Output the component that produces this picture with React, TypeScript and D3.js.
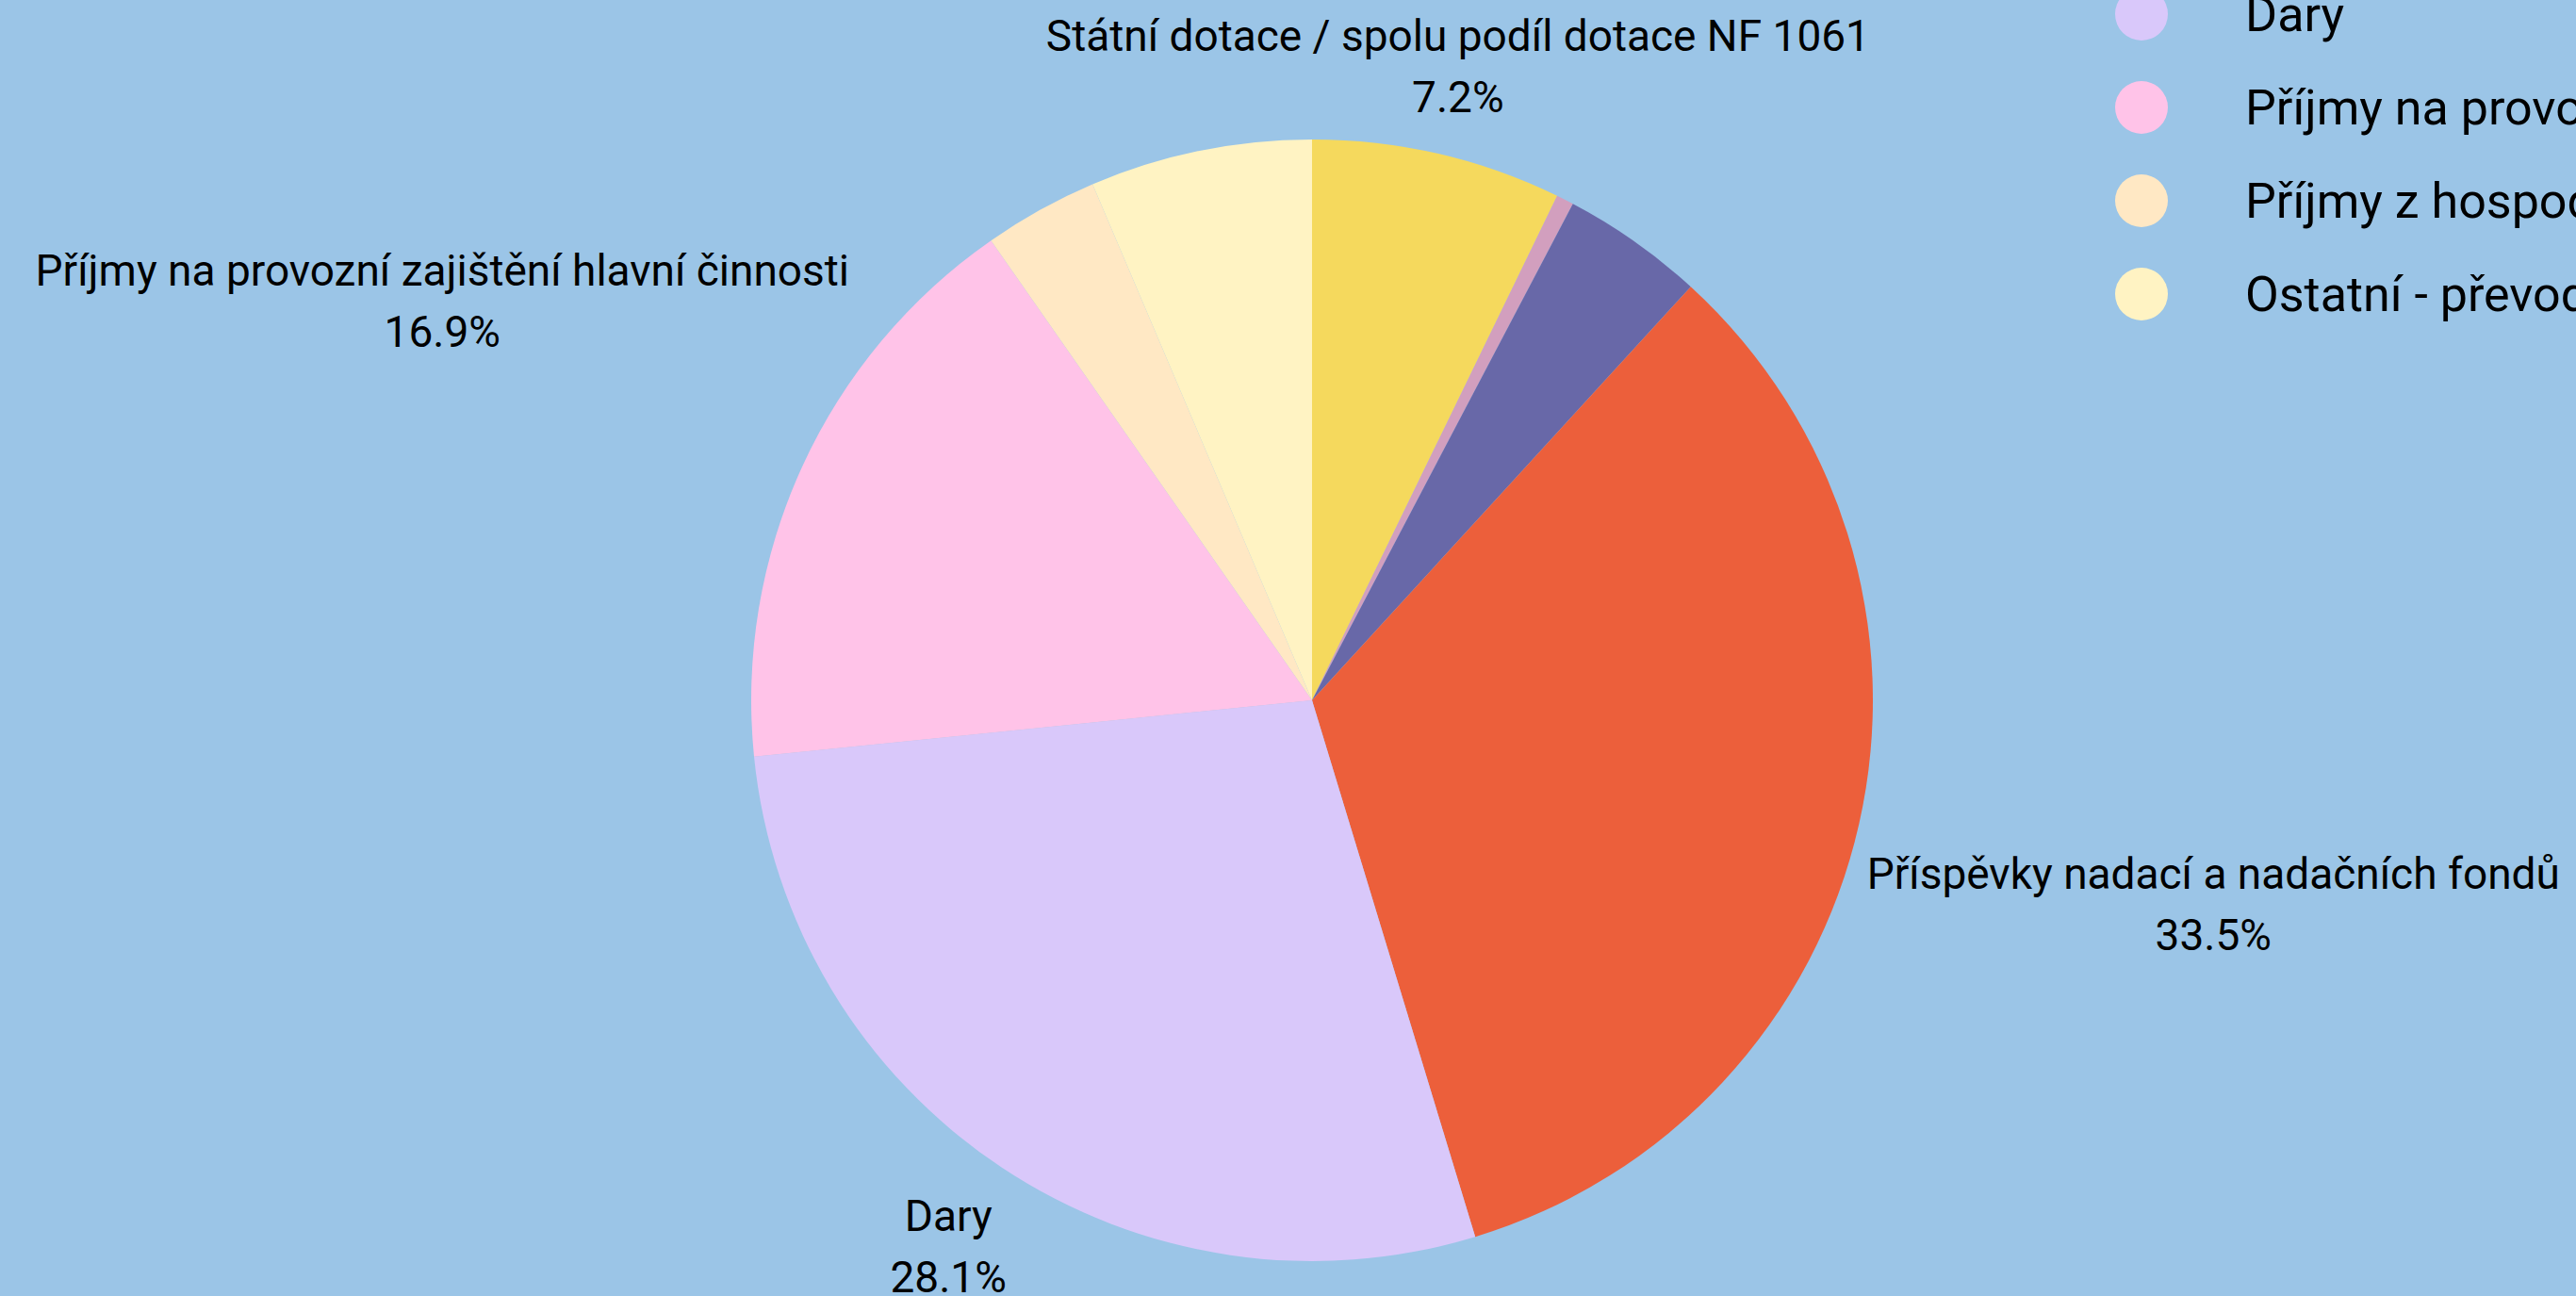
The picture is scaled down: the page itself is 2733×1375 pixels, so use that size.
import React, { useRef, useEffect } from 'react';
import * as d3 from 'd3';

// income structure (share in %)
const categories = [
  'Státní dotace / spolu podíl dotace NF 1061',
  'Dotace kraje',
  'Dotace obcí',
  'Příspěvky nadací a nadačních fondů',
  'Dary',
  'Příjmy na provozní zajištění hlavní činnosti',
  'Příjmy z hospodářské činnosti',
  'Ostatní - převody z fondů',
];
const values = [7.2, 0.5, 4.1, 33.5, 28.1, 16.9, 3.3, 6.4];
const colors = ['#F5D95D', '#D29FBE', '#6868A8', '#EC5F3B', '#D9C8FA', '#FFC3E8', '#FFE8C4', '#FFF3C3'];
const labelled = [
  'Státní dotace / spolu podíl dotace NF 1061',
  'Příspěvky nadací a nadačních fondů',
  'Dary',
  'Příjmy na provozní zajištění hlavní činnosti',
];

const W = 2733;
const H = 1375;
const BG = '#9BC5E7';
const FONT = 'Roboto, sans-serif';
const FS = 46;
const LEGEND_FS = 52;
const LH = 65;

const App = () => {
  const ref = useRef<SVGSVGElement>(null);

  useEffect(() => {
    const svg = d3.select(ref.current);
    svg.selectAll('*').remove();
    svg.append('rect').attr('width', W).attr('height', H).attr('fill', BG);

    const cx = 1392;
    const cy = 743;
    const R = 595;
    const g = svg.append('g').attr('transform', 'translate(' + cx + ',' + cy + ')');

    const pie = d3
      .pie<number>()
      .sort(null)
      .value((d) => d);
    const arcs = pie(values);
    const arc = d3.arc<any>().innerRadius(0).outerRadius(R);

    g.selectAll('.slice')
      .data(arcs)
      .enter()
      .append('path')
      .attr('class', 'slice')
      .attr('fill', (d, i) => colors[i])
      .attr('d', arc);

    const total = d3.sum(values);
    const fmt = d3.format('.1f');

    // outside labels: box pushed out along the mid angle until it clears the pie
    arcs.forEach((d, i) => {
      if (!labelled.includes(categories[i])) return;
      const a = (d.startAngle + d.endAngle) / 2;
      const ux = Math.sin(a);
      const uy = -Math.cos(a);
      const text = g
        .append('text')
        .attr('text-anchor', 'middle')
        .attr('font-family', FONT)
        .attr('font-size', FS)
        .attr('fill', '#000');
      const t1 = text.append('tspan').text(categories[i]);
      const t2 = text.append('tspan').text(fmt((values[i] / total) * 100) + '%');
      const hw = Math.max(t1.node().getComputedTextLength(), t2.node().getComputedTextLength()) / 2;
      const hh = LH;
      const nearest = (t) => {
        const dx = Math.max(0, Math.abs(t * ux) - hw);
        const dy = Math.max(0, Math.abs(t * uy) - hh);
        return Math.hypot(dx, dy);
      };
      let lo = 0;
      let hi = R * 4;
      for (let k = 0; k < 60; k++) {
        const mid = (lo + hi) / 2;
        if (nearest(mid) < R + 13) lo = mid;
        else hi = mid;
      }
      const px = lo * ux;
      const py = lo * uy;
      t1.attr('x', px).attr('y', py - LH / 2).attr('dominant-baseline', 'central');
      t2.attr('x', px).attr('y', py + LH / 2).attr('dominant-baseline', 'central');
    });

    // legend (its top half sits above the visible area)
    const legend = svg.append('g').attr('transform', 'translate(2272,' + (15 - 99 * 4) + ')');
    const item = legend
      .selectAll('.item')
      .data(categories)
      .enter()
      .append('g')
      .attr('class', 'item')
      .attr('transform', (d, i) => 'translate(0,' + i * 99 + ')');
    item.append('circle').attr('r', 28).attr('fill', (d, i) => colors[i]);
    item
      .append('text')
      .attr('x', 110)
      .attr('dominant-baseline', 'central')
      .attr('font-family', FONT)
      .attr('font-size', LEGEND_FS)
      .attr('fill', '#000')
      .text((d) => d);
  }, []);

  return (
    <svg
      ref={ref}
      width={W}
      height={H}
      style={{ position: 'absolute', left: 0, top: 0, display: 'block' }}
    />
  );
};

export default App;
